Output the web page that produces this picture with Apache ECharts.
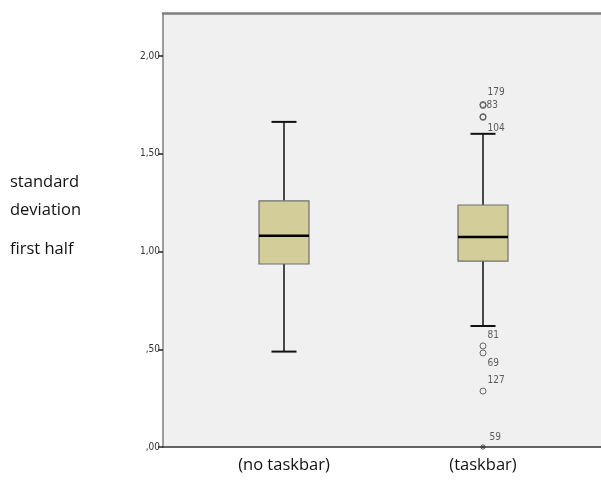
<!DOCTYPE html>
<html><head><meta charset="utf-8">
<script src="https://cdn.jsdelivr.net/npm/echarts@6/dist/echarts.min.js"></script>
<style>html,body{margin:0;padding:0;background:#fff}#c{width:601px;height:485px}</style>
</head><body><div id="c"></div>
<script>
var categories = ['(no taskbar)', '(taskbar)'];
// [min whisker, Q1, median, Q3, max whisker]
var boxNoTaskbar = [0.488, 0.936, 1.081, 1.259, 1.663];
var boxTaskbar = [0.619, 0.951, 1.074, 1.238, 1.602];
// outliers of "(taskbar)": [value, case label]
var outlierValues = [1.752, 1.747, 1.690, 1.686, 0.517, 0.481, 0.286];
var outlierLabels = ['179', '83', '', '104', '81', '69', '127'];
var extremeValues = [0.0];
var extremeLabels = ['59'];
var yTitle = ['standard', 'deviation', 'first half'];

var chart = echarts.init(document.getElementById('c'), null, {renderer: 'canvas'});
var labelOffsets = [[0, -12], [-1, 0], [0, 0], [0, 11], [0, -11], [0, 10], [0, -11]];
var titleCenters = [186, 214, 253];

function fmt(v) {
  var s = v.toFixed(2).replace('.', ',');
  if (s.charAt(0) === '0') s = s.substring(1);
  return s;
}

var boxData = [[0].concat(boxNoTaskbar), [1].concat(boxTaskbar)];
var smallFont = 'Liberation Sans Narrow, DejaVu Sans Condensed, sans-serif';

var option = {
  animation: false,
  backgroundColor: '#ffffff',
  grid: [
    {left: 163, right: 0, top: 13, bottom: 38, show: true, backgroundColor: '#f0f0f0', borderWidth: 0},
    {left: 184.5, width: 398, top: 13, bottom: 38}
  ],
  xAxis: [
    {type: 'value', gridIndex: 0, min: 0, max: 1, axisLine: {show: true, onZero: false, lineStyle: {color: '#333', width: 1.5}}, axisTick: {show: false}, axisLabel: {show: false}, splitLine: {show: false}},
    {type: 'value', gridIndex: 0, position: 'top', min: 0, max: 1, axisLine: {show: true, onZero: false, lineStyle: {color: '#808080', width: 2.5}}, axisTick: {show: false}, axisLabel: {show: false}, splitLine: {show: false}},
    {type: 'category', gridIndex: 1, data: categories, boundaryGap: true, axisLine: {show: false}, axisTick: {show: false},
     axisLabel: {color: '#111', fontSize: 16.5, fontFamily: 'Open Sans', margin: 10}}
  ],
  yAxis: [
    {type: 'value', gridIndex: 0, min: 0, max: 2.22, interval: 0.5,
     axisLine: {show: true, onZero: false, lineStyle: {color: '#808080', width: 1.5}},
     axisTick: {show: true, length: 5, lineStyle: {color: '#222', width: 1.5}},
     axisLabel: {color: '#333', fontSize: 10, fontFamily: smallFont, margin: 3, formatter: fmt,
       showMaxLabel: false},
     splitLine: {show: false}},
    {type: 'value', gridIndex: 1, min: 0, max: 2.22, show: false}
  ],
  series: [
    {
      type: 'custom', xAxisIndex: 2, yAxisIndex: 1,
      data: boxData,
      encode: {x: 0, y: [1, 2, 3, 4, 5]},
      renderItem: function (params, api) {
        var x = api.value(0);
        var pMin = api.coord([x, api.value(1)]);
        var pQ1 = api.coord([x, api.value(2)]);
        var pMed = api.coord([x, api.value(3)]);
        var pQ3 = api.coord([x, api.value(4)]);
        var pMax = api.coord([x, api.value(5)]);
        var cx = pMin[0];
        var hw = 25, cw = 12.5;
        var black = {stroke: '#111', lineWidth: 1.5};
        return {
          type: 'group',
          children: [
            {type: 'line', shape: {x1: cx, y1: pMax[1], x2: cx, y2: pQ3[1]}, style: black},
            {type: 'line', shape: {x1: cx, y1: pQ1[1], x2: cx, y2: pMin[1]}, style: black},
            {type: 'line', shape: {x1: cx - cw, y1: pMax[1], x2: cx + cw, y2: pMax[1]}, style: {stroke: '#111', lineWidth: 2}},
            {type: 'line', shape: {x1: cx - cw, y1: pMin[1], x2: cx + cw, y2: pMin[1]}, style: {stroke: '#111', lineWidth: 2}},
            {type: 'rect', shape: {x: cx - hw, y: pQ3[1], width: 2 * hw, height: pQ1[1] - pQ3[1]}, style: {fill: '#d3ce99', stroke: '#6f6f6f', lineWidth: 1.2}},
            {type: 'line', shape: {x1: cx - hw, y1: pMed[1], x2: cx + hw, y2: pMed[1]}, style: {stroke: '#000', lineWidth: 2.5}}
          ]
        };
      }
    },
    {
      type: 'scatter', xAxisIndex: 2, yAxisIndex: 1,
      symbol: 'circle', symbolSize: 6,
      itemStyle: {color: 'rgba(0,0,0,0)', borderColor: '#444', borderWidth: 1},
      data: outlierValues.map(function (v, i) {
        return {value: [1, v], name: outlierLabels[i],
          label: {show: outlierLabels[i] !== '', position: 'right', offset: labelOffsets[i], distance: 1}};
      }),
      label: {formatter: '{b}', color: '#333', fontSize: 10, fontFamily: smallFont}
    },
    {
      type: 'scatter', xAxisIndex: 2, yAxisIndex: 1,
      symbol: 'path://M0,-5L0,5M-5,0L5,0M-3.5,-3.5L3.5,3.5M-3.5,3.5L3.5,-3.5', symbolSize: 6,
      itemStyle: {color: 'none', borderColor: '#333', borderWidth: 1},
      data: extremeValues.map(function (v, i) {
        return {value: [1, v], name: extremeLabels[i], label: {show: true, position: 'right', offset: [0, -10], distance: 1}};
      }),
      label: {formatter: '{b}', color: '#333', fontSize: 10, fontFamily: smallFont}
    }
  ],
  graphic: yTitle.map(function (t, i) {
    return {type: 'text', left: 10, top: titleCenters[i] - 12,
      style: {text: t, fill: '#111', font: '16.5px "Open Sans"'}};
  })
};
chart.setOption(option);
</script></body></html>
